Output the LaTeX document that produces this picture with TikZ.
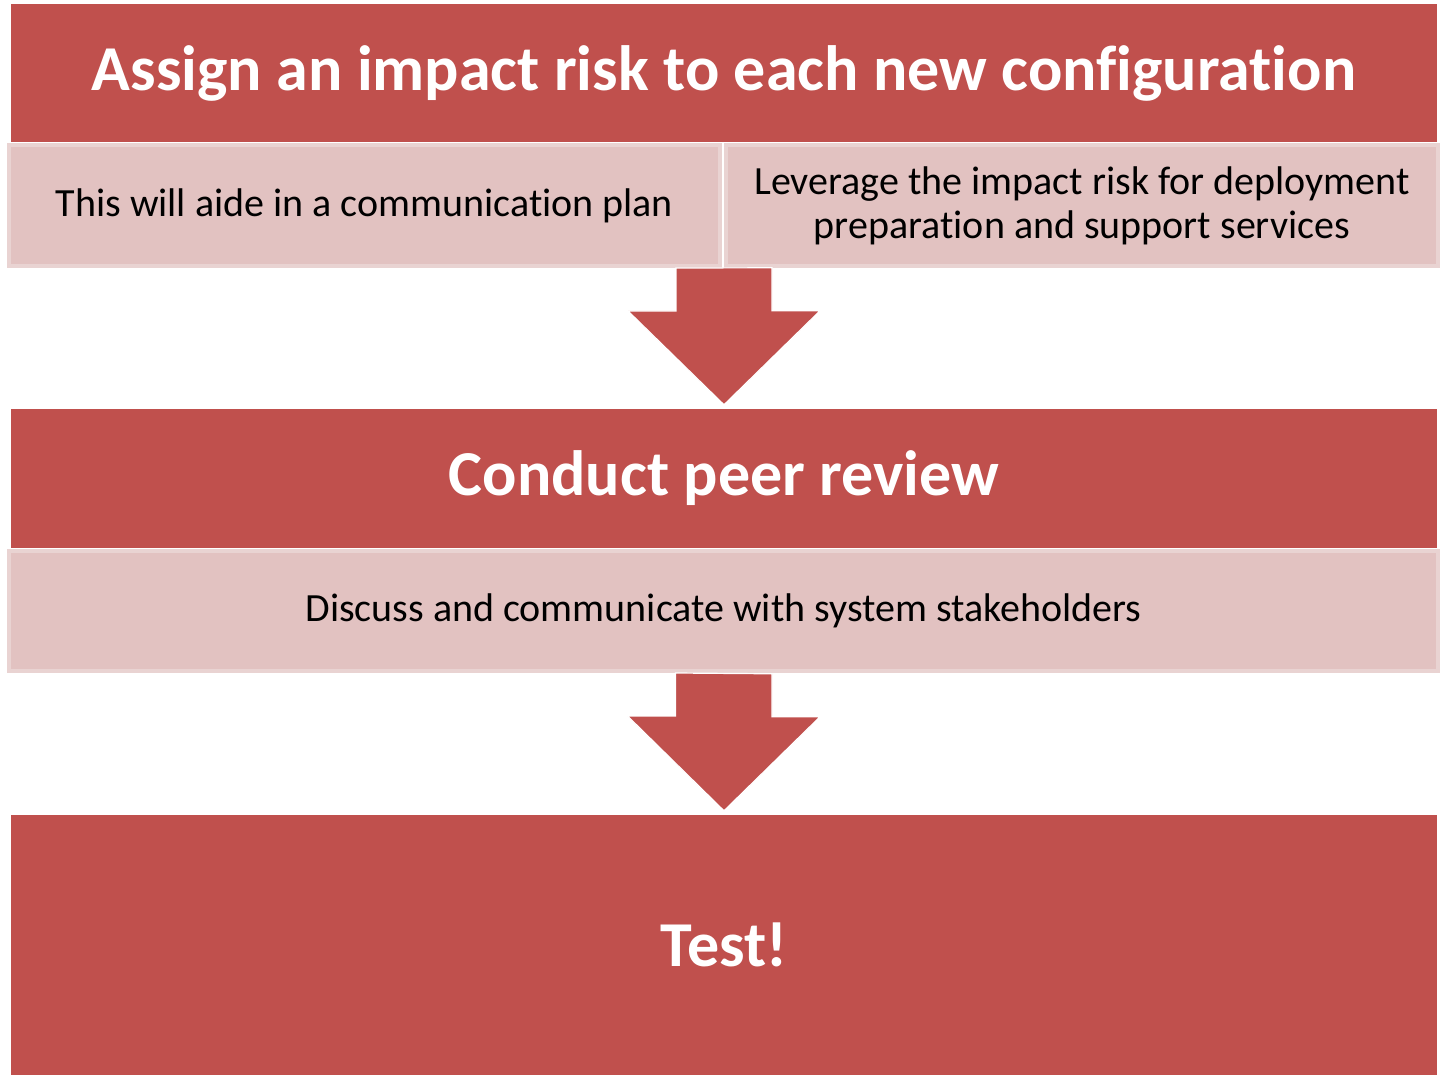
\documentclass[tikz,border=0pt]{standalone}
\usepackage{fontspec}
\setmainfont{Carlito}[Ligatures=NoCommon]
\usetikzlibrary{positioning,calc}

\definecolor{headred}{HTML}{C0504D}
\definecolor{subpink}{HTML}{E2C2C1}
\definecolor{subedge}{HTML}{E9D3D2}

\tikzset{
  head/.style={fill=headred, text=white, font=\bfseries\fontsize{64}{76}\selectfont,
    inner sep=0pt, minimum width=1426pt},
  sub/.style={fill=subpink, draw=subedge, line width=4pt, text=black,
    font=\fontsize{40}{44}\selectfont, align=center, inner sep=0pt},
  blockarrow/.style={fill=headred, draw=white, line width=1.2pt, line join=miter}
}

\begin{document}
\begin{tikzpicture}[x=1pt, y=-1pt]
  \useasboundingbox (0,0) rectangle (1441,1075);

  % first step and its notes
  \node[head, minimum height=138pt] (assign) at (724,73) {Assign an impact risk to each new configuration};
  \node[sub, minimum width=711pt, minimum height=121pt] (aide) at (364.5,205.5) {This will aide in a communication plan};
  \node[sub, minimum width=712pt, minimum height=121pt] (leverage) at (1082,205.5) {Leverage the impact risk for deployment\\preparation and support services};

  % second step
  \node[head, minimum height=139pt] (review) at (724,478.5) {Conduct peer review};
  \node[sub, minimum width=1429pt, minimum height=120pt] (discuss) at (723.5,611) {Discuss and communicate with system stakeholders};

  % last step
  \node[head, minimum height=260pt] (test) at (724,945) {Test!};

  % block arrows between the steps
  \draw[blockarrow] ($(leverage.south west)+(-48,0)$) -- ++(0,43) -- ++(-48,0)
    -- ($(review.north)+(0,-4)$) -- ++(96,-94) -- ++(-48,0) -- ++(0,-43) -- cycle;
  \draw[blockarrow] ($(discuss.south)+(-48,0)$) -- ++(0,43) -- ++(-48,0)
    -- ($(test.north)+(0,-4)$) -- ++(96,-94) -- ++(-48,0) -- ++(0,-43) -- cycle;
\end{tikzpicture}
\end{document}
